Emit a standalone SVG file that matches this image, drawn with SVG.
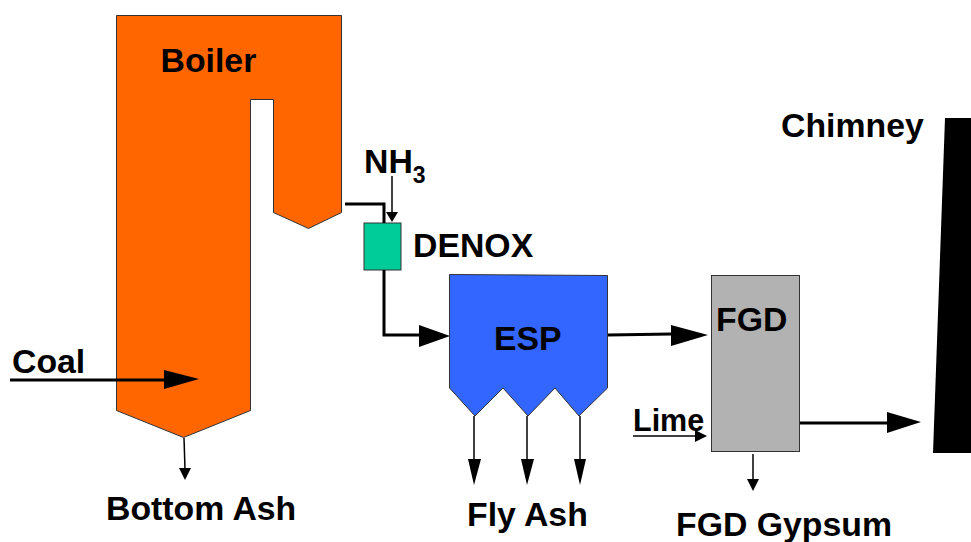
<svg xmlns="http://www.w3.org/2000/svg" width="971" height="542" viewBox="0 0 971 542">
<style>
text{font-family:"Liberation Sans",Arial,sans-serif;font-weight:bold;fill:#000;font-size:33.800px}
.s{stroke:#333;stroke-width:1;stroke-linejoin:miter}
.c{fill:none;stroke:#000;stroke-linejoin:miter}
.a{fill:#000;stroke:none}
</style>
<rect width="971" height="542" fill="#fff"/>
<g id="boiler"><path class="s" fill="#ff6600" d="M116.500 15.500H341.500V212.500L308.500 228.500L273.500 212.500V99.500H250.500V410.500L183.500 437.500L116.500 410.500Z"/><text x="160.500" y="72">Boiler</text></g>
<g id="denox"><rect class="s" x="364" y="223" width="37" height="47" fill="#00cc99"/><text x="413" y="257">DENOX</text></g>
<g id="esp"><path class="s" fill="#3366ff" d="M449.500 274.500L607.500 275.500V388L579 416L555 388L528 416L503 388L475 416L449.500 388Z"/><text x="494" y="350">ESP</text></g>
<g id="fgd"><rect class="s" x="711.500" y="275.500" width="88" height="176" fill="#b2b2b2"/><text x="716" y="331">FGD</text></g>
<g id="chimney"><path fill="#000" d="M945 118H971V453H933Z"/><text x="781" y="137">Chimney</text></g>
<g id="labels">
<text x="364" y="173">NH<tspan style="font-size:23px" dy="10">3</tspan></text>
<text x="12" y="373">Coal</text>
<text x="633" y="431" style="font-size:30.500px">Lime</text>
<text x="106" y="520">Bottom Ash</text>
<text x="467" y="526">Fly Ash</text>
<text x="676" y="536">FGD Gypsum</text>
</g>
<g id="connectors">
<path class="c" stroke-width="3" d="M345 204H384V223"/>
<path class="c" stroke-width="1.500" d="M392 176V212"/><path class="a" d="M386 212H398L392 222Z"/>
<path class="c" stroke-width="3" d="M384 270V335H420"/><path class="a" d="M419 325L450 336L419 347Z"/>
<path class="c" stroke-width="3" d="M608 335L672 334"/><path class="a" d="M671 325L708 335L671 346Z"/>
<path class="c" stroke-width="3" d="M10 380H165"/><path class="a" d="M164 370L199 379L164 389Z"/>
<path class="c" stroke-width="1.500" d="M184 438L185 469"/><path class="a" d="M179 468H191L185 480Z"/>
<path class="c" stroke-width="1.500" d="M474 416V460"/><path class="a" d="M468 459H481L474 485Z"/>
<path class="c" stroke-width="1.500" d="M527 416V460"/><path class="a" d="M521 459H534L527 485Z"/>
<path class="c" stroke-width="1.500" d="M580 416V460"/><path class="a" d="M574 459H586L580 485Z"/>
<path class="c" stroke-width="1.500" d="M633 436H696"/><path class="a" d="M695 430L707 436L695 442Z"/>
<path class="c" stroke-width="1.500" d="M753 454V481"/><path class="a" d="M747 479H759L753 491Z"/>
<path class="c" stroke-width="3" d="M800 423H888"/><path class="a" d="M887 412L921 422L887 433Z"/>
</g>
</svg>
